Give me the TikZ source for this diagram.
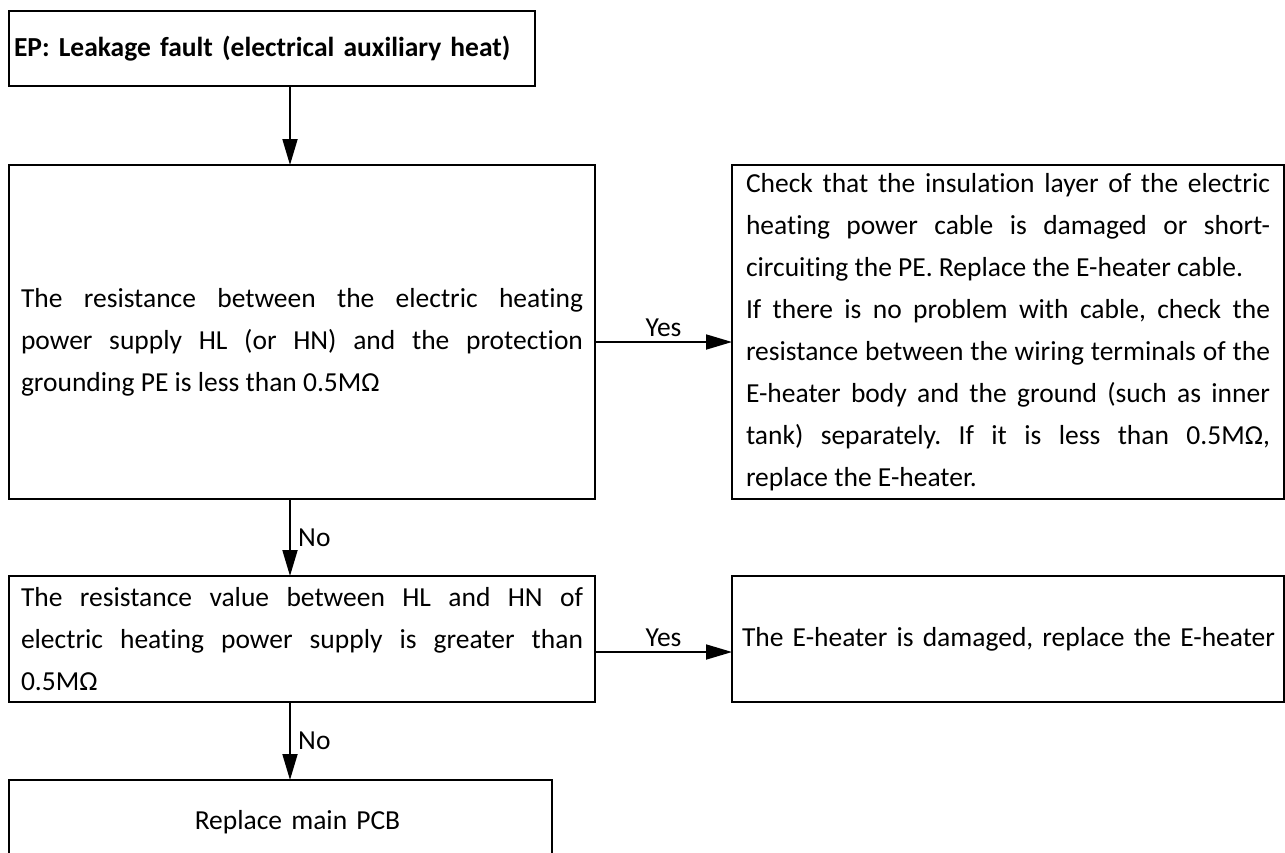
\documentclass[tikz,border=0pt]{standalone}
\usepackage{fontspec}
\setmainfont{Carlito}[Ligatures=NoCommon]
\usetikzlibrary{arrows.meta,positioning}

\begin{document}
\begin{tikzpicture}[x=1pt, y=-1pt,
    every node/.style={font=\fontsize{27.5}{42}\selectfont\frenchspacing},
    box/.style={draw, line width=2.4pt, anchor=north west, inner ysep=0pt, outer sep=0pt, align=justify},
    arr/.style={-{Triangle[length=26pt, width=15pt]}, line width=1.8pt}]
    \useasboundingbox (0,0) rectangle (1285,852);
    \coordinate (spine) at (290,0);

    \node[box, minimum width=526, minimum height=75, text width=516, inner xsep=5, align=left,
      font=\fontsize{27.5}{42}\selectfont\bfseries] (title) at (9,11) {EP: Leakage fault (electrical auxiliary heat)};
    \node[box, minimum width=586, minimum height=334, text width=562, inner xsep=12] (pe) at (9,165)
      {\rule{0pt}{40pt}The resistance between the electric heating\linebreak power supply HL (or HN) and the protection\linebreak grounding PE is less than 0.5MΩ};
    \node[box, minimum width=552, minimum height=334, text width=524, inner xsep=14] (cable) at (732,165)
      {Check that the insulation layer of the electric\linebreak heating power cable is damaged or short-\linebreak circuiting the PE. Replace the E-heater cable.\\
       If there is no problem with cable, check the\linebreak resistance between the wiring terminals of the\linebreak E-heater body and the ground (such as inner\linebreak tank) separately. If it is less than 0.5MΩ,\linebreak replace the E-heater.};
    \node[box, minimum width=586, minimum height=126, text width=562, inner xsep=12] (hlhn) at (9,576)
      {The resistance value between HL and HN of\linebreak electric heating power supply is greater than\linebreak 0.5MΩ};
    \node[box, minimum width=552, minimum height=126, text width=532, inner xsep=10, align=left] (heater) at (732,576)
      {\mbox{The E-heater is damaged, replace the E-heater}};
    \node[box, minimum width=543, minimum height=84, text width=519, inner xsep=12, align=center] (pcb) at (9,780)
      {\hspace*{34pt}Replace main PCB};

    \draw[arr] (title.south -| spine) -- (pe.north -| spine);
    \draw[arr] ([yshift=-10pt]pe.east) -- node[above=1pt]{Yes} ([yshift=-10pt]cable.west);
    \draw[arr] (pe.south -| spine) -- node[right=4pt]{No} (hlhn.north -| spine);
    \draw[arr] ([yshift=-13pt]hlhn.east) -- node[above=1pt]{Yes} ([yshift=-13pt]heater.west);
    \draw[arr] (hlhn.south -| spine) -- node[right=4pt]{No} (pcb.north -| spine);
  \end{tikzpicture}
\end{document}
